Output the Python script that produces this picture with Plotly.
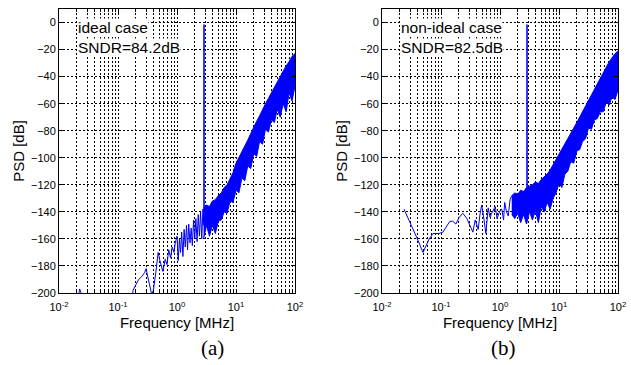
import plotly.graph_objects as go

# ---------------- data ----------------
# Panel (a): ideal case, low-frequency part drawn as a line (MHz, dB)
a_line_f = [0.0200, 0.0224, 0.0251, 0.0316, 0.158, 0.180, 0.200, 0.224, 0.251, 0.282,
            0.299, 0.316, 0.339, 0.372, 0.398, 0.437, 0.479, 0.513, 0.550, 0.575,
            0.631, 0.676, 0.724, 0.776, 0.832, 0.891, 0.933, 1.00, 1.05, 1.10,
            1.15, 1.20, 1.26, 1.32, 1.38, 1.45, 1.51, 1.58, 1.66, 1.74,
            1.82, 1.91, 2.00, 2.09, 2.19, 2.29, 2.40, 2.51, 2.63, 2.75, 2.87]
a_line_db = [-210, -197, -203, -215, -215, -198, -194, -190, -188, -185,
             -182, -186, -193, -201, -198, -185, -170, -176, -180, -184,
             -175, -179, -168, -174, -166, -170, -163, -158, -176, -160,
             -170, -155, -173, -153, -166, -150, -168, -149, -163, -152,
             -165, -146, -160, -145, -162, -142, -158, -140, -160, -138, -150]

# Panel (a): dense noise band, upper / lower envelope (MHz, dB)
a_band_f = [2.82, 3.16, 3.55, 3.98, 4.47, 5.01, 5.62, 6.31, 7.08, 7.94, 8.91, 10.0,
            11.2, 12.6, 14.1, 15.8, 17.8, 20.0, 22.4, 25.1, 28.2, 31.6, 35.5, 39.8,
            44.7, 50.1, 56.2, 63.1, 70.8, 79.4, 89.1, 100.0]
a_band_hi = [-137, -135, -136, -132, -131, -128, -126, -122, -120, -115, -111, -104,
             -100, -96, -91, -87, -82, -78, -73, -69, -64, -60, -56, -52,
             -47, -44, -40, -36, -32, -29, -25, -23]
a_band_lo = [-160, -150, -158, -150, -156, -147, -146, -140, -141, -132, -133, -124,
             -126, -115, -117, -106, -108, -97, -99, -88, -90, -79, -81, -72,
             -74, -64, -70, -60, -66, -52, -58, -47]

# Panel (b): non-ideal case, low-frequency part drawn as a line (MHz, dB)
b_line_f = [0.0236, 0.0316, 0.0398, 0.0496, 0.0562, 0.0631, 0.0733, 0.0925, 0.108, 0.126,
            0.141, 0.158, 0.179, 0.204, 0.234, 0.275, 0.316, 0.347, 0.380, 0.427,
            0.457, 0.490, 0.537, 0.575, 0.631, 0.676, 0.724, 0.776, 0.832, 0.891,
            0.933, 1.00, 1.07, 1.15, 1.20, 1.29, 1.38, 1.48, 1.58]
b_line_db = [-138, -150, -160, -170, -165, -160, -156, -156, -155, -150,
             -147, -147, -149, -144, -141, -145, -151, -155, -146, -153,
             -142, -135, -146, -156, -137, -144, -141, -138, -136, -145,
             -143, -139, -138, -146, -133, -140, -143, -131, -128]

# Panel (b): dense noise band, upper / lower envelope (MHz, dB)
b_band_f = [1.58, 1.78, 2.00, 2.24, 2.51, 2.82, 3.16, 3.55, 3.98, 4.47, 5.01, 5.62,
            6.31, 7.08, 7.94, 8.91, 10.0, 11.2, 12.6, 14.1, 15.8, 17.8, 20.0, 22.4,
            25.1, 28.2, 31.6, 35.5, 39.8, 44.7, 50.1, 56.2, 63.1, 70.8, 79.4, 89.1, 100.0]
b_band_hi = [-128, -126, -127, -124, -125, -122, -121, -120, -118, -119, -116, -114,
             -112, -109, -105, -101, -97, -94, -90, -86, -82, -78, -74, -70,
             -66, -62, -57, -53, -49, -45, -41, -37, -33, -29, -26, -23, -21]
b_band_lo = [-142, -145, -141, -148, -142, -149, -140, -146, -139, -148, -136, -140,
             -133, -138, -130, -126, -119, -122, -112, -110, -103, -104, -95, -94,
             -88, -86, -78, -79, -72, -71, -66, -66, -59, -61, -55, -57, -50]

# Signal tone
tone_f = 2.87
a_tone_db = [-150, -1.5]
b_tone_db = [-142, -1.5]

x_ticks = [0.01, 0.1, 1, 10, 100]
x_tick_text = ["10<sup>-2</sup>", "10<sup>-1</sup>", "10<sup>0</sup>", "10<sup>1</sup>", "10<sup>2</sup>"]
x_minor = [0.02, 0.03, 0.04, 0.05, 0.06, 0.07, 0.08, 0.09,
           0.2, 0.3, 0.4, 0.5, 0.6, 0.7, 0.8, 0.9,
           2, 3, 4, 5, 6, 7, 8, 9,
           20, 30, 40, 50, 60, 70, 80, 90]
y_ticks = [0, -20, -40, -60, -80, -100, -120, -140, -160, -180, -200]
captions = ["(a)", "(b)"]
labels = [["ideal case", "SNDR=84.2dB"], ["non-ideal case", "SNDR=82.5dB"]]

# ---------------- figure ----------------
BLUE = "#0000ff"
SANS = "Arial, 'Liberation Sans', sans-serif"
SERIF = "'Times New Roman', 'Liberation Serif', serif"
GRID_DASH = "2px,2px"
fig = go.Figure()

panels = [
    ("x", "y", a_line_f, a_line_db, a_band_f, a_band_hi, a_band_lo, a_tone_db),
    ("x2", "y2", b_line_f, b_line_db, b_band_f, b_band_hi, b_band_lo, b_tone_db),
]
for xa, ya, lf, ldb, bf, bhi, blo, tdb in panels:
    fig.add_trace(go.Scatter(x=bf + bf[::-1], y=bhi + blo[::-1], mode="lines",
                             fill="toself", fillcolor=BLUE,
                             line=dict(color=BLUE, width=1),
                             xaxis=xa, yaxis=ya, showlegend=False, hoverinfo="skip"))
    fig.add_trace(go.Scatter(x=lf, y=ldb, mode="lines",
                             line=dict(color=BLUE, width=1),
                             xaxis=xa, yaxis=ya, showlegend=False))
    fig.add_trace(go.Scatter(x=[tone_f, tone_f], y=tdb, mode="lines",
                             line=dict(color=BLUE, width=1.6),
                             xaxis=xa, yaxis=ya, showlegend=False))

x_domains = [[59 / 631, 295 / 631], [382 / 631, 618 / 631]]
y_domain = [1 - 293 / 365, 1 - 9 / 365]

axis_common = dict(showline=True, linecolor="black", linewidth=1, mirror="allticks",
                   ticks="inside", ticklen=4, tickcolor="black", automargin=False,
                   showgrid=True, gridcolor="black", gridwidth=1, griddash=GRID_DASH,
                   zeroline=False, tickfont=dict(family=SANS, size=11, color="black"))

for i, (xn, yn) in enumerate([("xaxis", "yaxis"), ("xaxis2", "yaxis2")]):
    anchor_x = "y" if i == 0 else "y2"
    anchor_y = "x" if i == 0 else "x2"
    fig.layout[xn] = dict(axis_common, type="log", range=[-2, 2], domain=x_domains[i],
                          anchor=anchor_x, tickmode="array", tickvals=x_ticks,
                          ticktext=x_tick_text, ticklabelstandoff=4,
                          minor=dict(tickmode="array", tickvals=x_minor, showgrid=True,
                                     gridcolor="black", gridwidth=1, griddash=GRID_DASH,
                                     ticks="inside", ticklen=3, tickcolor="black"),
                          title=dict(text="Frequency [MHz]", standoff=5,
                                     font=dict(family=SANS, size=15, color="black")))
    fig.layout[yn] = dict(axis_common, range=[-200, 10], domain=y_domain,
                          anchor=anchor_y, tickmode="array", tickvals=y_ticks,
                          title=dict(text="PSD [dB]", standoff=2,
                                     font=dict(family=SANS, size=15, color="black")))

annotations = []
for i in range(2):
    x0 = x_domains[i][0] + 18 / 631
    for j, txt in enumerate(labels[i]):
        annotations.append(dict(text=txt, xref="paper", yref="paper",
                                x=x0, y=1 - (27 + 20 * j) / 365,
                                xanchor="left", yanchor="middle", showarrow=False,
                                bgcolor="white", borderpad=0,
                                font=dict(family=SANS, size=15.5, color="black")))
    annotations.append(dict(text=captions[i], xref="paper", yref="paper",
                            x=[212 / 631, 503 / 631][i], y=1 - 348 / 365,
                            xanchor="center", yanchor="middle", showarrow=False,
                            font=dict(family=SERIF, size=21, color="black")))

fig.update_layout(width=631, height=365, margin=dict(l=0, r=0, t=0, b=0),
                  paper_bgcolor="white", plot_bgcolor="white",
                  annotations=annotations, showlegend=False)

fig.write_html("out.html", config={"displayModeBar": False},
               post_script="document.body.style.margin='0';document.body.style.padding='0';")
